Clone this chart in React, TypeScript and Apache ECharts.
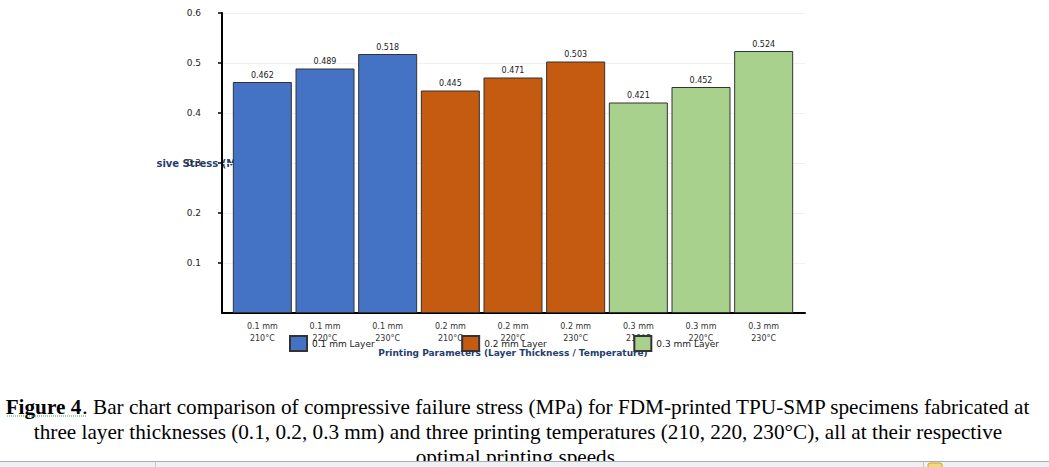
import React, { useEffect, useRef } from "react";
import * as echarts from "echarts";

const categories = [
  "0.1 mm\n210°C", "0.1 mm\n220°C", "0.1 mm\n230°C",
  "0.2 mm\n210°C", "0.2 mm\n220°C", "0.2 mm\n230°C",
  "0.3 mm\n210°C", "0.3 mm\n220°C", "0.3 mm\n230°C",
];
const layerNames = ["0.1 mm Layer", "0.2 mm Layer", "0.3 mm Layer"];
const layer01 = [0.462, 0.489, 0.518];
const layer02 = [0.445, 0.471, 0.503];
const layer03 = [0.421, 0.452, 0.524];
const layerValues = [layer01, layer02, layer03];
const layerColors = ["#4472C4", "#C55A11", "#A9D18E"];
const yMin = 0;
const yMax = 0.6;
const yStep = 0.1;
const yAxisTitle = "Compressive Stress (MPa)";
const xAxisTitle = "Printing Parameters (Layer Thickness / Temperature)";
const captionLines = [
  "{b|Figure 4}. Bar chart comparison of compressive failure stress (MPa) for FDM-printed TPU-SMP specimens fabricated at",
  "three layer thicknesses (0.1, 0.2, 0.3 mm) and three printing temperatures (210, 220, 230°C), all at their respective",
  "optimal printing speeds.",
];

const FONT = "DejaVu Sans";

export default function App() {
  const ref = useRef<HTMLDivElement>(null);
  useEffect(() => {
    document.body.style.margin = "0";
    const chart = echarts.init(ref.current!, null, { renderer: "svg" });
    const series = layerValues.map((vals, li) => {
      const data: any[] = categories.map(() => "-");
      vals.forEach((v, k) => {
        data[li * 3 + k] = v;
      });
      return {
        type: "bar",
        name: layerNames[li],
        xAxisIndex: 0,
        yAxisIndex: 0,
        data,
        barWidth: 59,
        barGap: "-100%",
        itemStyle: { color: layerColors[li], borderColor: "#333333", borderWidth: 1 },
        label: {
          show: true,
          position: "top",
          distance: 3,
          fontSize: 8,
          fontFamily: FONT,
          color: "#222",
          formatter: (p: any) => Number(p.value).toFixed(3),
        },
      };
    });
    const captionText = captionLines.map((t, i) => ({
      type: "text",
      z: 5,
      x: 518,
      y: 407 + i * 25,
      scaleX: 1.062,
      style: {
        text: t,
        textAlign: "center",
        textVerticalAlign: "middle",
        fontFamily: "Liberation Serif",
        fontSize: 20,
        fill: "#000",
        rich: { b: { fontWeight: "bold", fontFamily: "Liberation Serif", fontSize: 20, fill: "#000" } },
      },
    }));
    chart.setOption({
      animation: false,
      backgroundColor: "#ffffff",
      grid: [
        { left: 231, width: 564, top: 13, height: 300 },
        { left: 222, width: 583, top: 13, height: 300 },
      ],
      xAxis: [
        {
          type: "category",
          gridIndex: 0,
          data: categories,
          axisLine: { show: false },
          axisTick: { show: false },
          axisLabel: { fontSize: 8, lineHeight: 12, margin: 7, color: "#333", fontFamily: FONT, interval: 0 },
          name: xAxisTitle,
          nameLocation: "middle",
          nameGap: 34,
          nameTextStyle: { fontSize: 9, fontWeight: "bold", color: "#233d6e", fontFamily: FONT },
        },
        {
          type: "value",
          gridIndex: 1,
          min: 0,
          max: 1,
          axisLine: { show: true, lineStyle: { color: "#000", width: 2 } },
          axisTick: { show: false },
          axisLabel: { show: false },
          splitLine: { show: false },
        },
      ],
      yAxis: [
        {
          type: "value",
          gridIndex: 0,
          min: yMin,
          max: yMax,
          interval: yStep,
          axisLine: { show: false },
          axisTick: { show: false },
          axisLabel: { show: false },
          splitLine: { show: false },
        },
        {
          type: "value",
          gridIndex: 1,
          min: yMin,
          max: yMax,
          interval: yStep,
          axisLine: { show: true, lineStyle: { color: "#000", width: 2 } },
          axisTick: { show: true, length: 4, lineStyle: { color: "#000", width: 1.5 } },
          axisLabel: {
            showMinLabel: false,
            margin: 21,
            fontSize: 9,
            color: "#222",
            fontFamily: FONT,
            formatter: (v: number) => v.toFixed(1),
          },
          splitLine: { show: true, lineStyle: { color: "#f0f0f0", width: 1 } },
        },
      ],
      legend: {
        data: layerNames,
        left: 289,
        top: 335,
        padding: 0,
        icon: "rect",
        itemWidth: 17,
        itemHeight: 15,
        itemGap: 86.5,
        textStyle: { fontSize: 9, color: "#222", fontFamily: FONT },
      },
      series,
      graphic: [
        {
          type: "text",
          z: 0,
          x: 107,
          y: 163,
          style: {
            text: yAxisTitle,
            textAlign: "left",
            textVerticalAlign: "middle",
            fontFamily: FONT,
            fontSize: 10,
            fontWeight: "bold",
            fill: "#233d6e",
          },
        },
        { type: "rect", z: 1, shape: { x: 0, y: 140, width: 157, height: 45 }, style: { fill: "#ffffff" } },
        ...captionText,
        { type: "line", z: 6, shape: { x1: 7, y1: 416, x2: 86, y2: 416 }, style: { stroke: "#3fa34d", lineWidth: 1, lineDash: [1, 1] } },
        { type: "rect", z: 10, shape: { x: 0, y: 462, width: 1049, height: 5 }, style: { fill: "#eef0f3" } },
        { type: "line", z: 11, shape: { x1: 0, y1: 461.5, x2: 1049, y2: 461.5 }, style: { stroke: "#a9acb1", lineWidth: 1 } },
        { type: "line", z: 11, shape: { x1: 155.5, y1: 462, x2: 155.5, y2: 467 }, style: { stroke: "#c4c7cc", lineWidth: 1 } },
        { type: "line", z: 11, shape: { x1: 923.5, y1: 462, x2: 923.5, y2: 467 }, style: { stroke: "#c4c7cc", lineWidth: 1 } },
        { type: "rect", z: 11, shape: { x: 928, y: 463, width: 14, height: 6, r: 2 }, style: { fill: "#f7d774", stroke: "#c9a23a", lineWidth: 1 } },
      ],
    });
    return () => chart.dispose();
  }, []);
  return <div ref={ref} style={{ position: "absolute", left: 0, top: 0, width: 1049, height: 467 }} />;
}
